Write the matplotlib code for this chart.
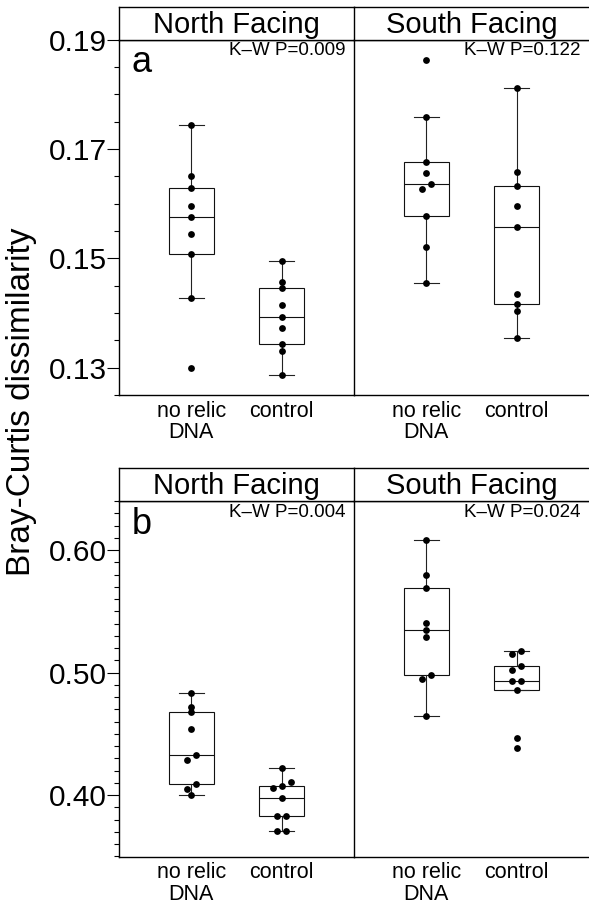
import numpy as np
import matplotlib.pyplot as plt
from matplotlib.ticker import MultipleLocator, FormatStrFormatter

plt.rcParams["font.family"] = ["Liberation Sans", "DejaVu Sans"]

FIG_W, FIG_H, DPI = 589, 907, 100

FACETS = ["North Facing", "South Facing"]
GROUPS = ["no relic\nDNA", "control"]

# panel a
A_NORTH_NORELIC = [0.1743, 0.1650, 0.1628, 0.1596, 0.1575, 0.1544, 0.1508, 0.1428, 0.1300]
A_NORTH_CONTROL = [0.1495, 0.1456, 0.1445, 0.1415, 0.1393, 0.1373, 0.1343, 0.1330, 0.1287]
A_SOUTH_NORELIC = [0.1862, 0.1759, 0.1676, 0.1656, 0.1635, 0.1627, 0.1578, 0.1520, 0.1454]
A_SOUTH_CONTROL = [0.1812, 0.1658, 0.1632, 0.1595, 0.1558, 0.1435, 0.1417, 0.1403, 0.1355]
A_PVALUES = ["K\u2013W P=0.009", "K\u2013W P=0.122"]
A_YTICKS = [0.13, 0.15, 0.17, 0.19]

# panel b
B_NORTH_NORELIC = [0.4832, 0.4718, 0.4675, 0.4539, 0.4328, 0.4290, 0.4095, 0.4054, 0.4002]
B_NORTH_CONTROL = [0.4220, 0.4108, 0.4073, 0.4057, 0.3978, 0.3827, 0.3827, 0.3707, 0.3707]
B_SOUTH_NORELIC = [0.6079, 0.5797, 0.5689, 0.5404, 0.5350, 0.5293, 0.4978, 0.4951, 0.4645]
B_SOUTH_CONTROL = [0.5173, 0.5149, 0.5057, 0.5024, 0.4929, 0.4929, 0.4862, 0.4463, 0.4388]
B_PVALUES = ["K\u2013W P=0.004", "K\u2013W P=0.024"]
B_YTICKS = [0.40, 0.50, 0.60]


def px(x0, y0, w, h):
    """Pixel box (from top-left) to figure fraction rect."""
    return [x0 / FIG_W, 1 - (y0 + h) / FIG_H, w / FIG_W, h / FIG_H]


def swarm_offsets(ax, values, thresh_px=5.2, step_px=9.0):
    """Side-by-side nudge for points that sit almost on top of each other."""
    vals = np.asarray(values, dtype=float)
    ypx = ax.transData.transform(np.column_stack([np.ones_like(vals), vals]))[:, 1]
    x_unit = ax.transData.transform((1, 0))[0] - ax.transData.transform((0, 0))[0]
    offsets = np.zeros_like(vals)
    order = np.argsort(ypx, kind="stable")

    def spread(cluster):
        n = len(cluster)
        for k, idx in enumerate(cluster):
            offsets[idx] = (k - (n - 1) / 2) * step_px / x_unit

    cluster = [order[0]]
    for i in order[1:]:
        if ypx[i] - ypx[cluster[-1]] < thresh_px:
            cluster.append(i)
        else:
            spread(cluster)
            cluster = [i]
    spread(cluster)
    return offsets


def draw_facet(ax, groups, first):
    ax.boxplot(
        groups,
        positions=[1, 2],
        widths=0.5,
        whis=1.5,
        showfliers=False,
        patch_artist=True,
        capwidths=0.28,
        boxprops=dict(facecolor="white", edgecolor="#111111", linewidth=0.8),
        medianprops=dict(color="#111111", linewidth=0.8),
        whiskerprops=dict(color="#222222", linewidth=0.8),
        capprops=dict(color="#222222", linewidth=0.8),
        zorder=1,
    )
    for pos, vals in zip([1, 2], groups):
        off = swarm_offsets(ax, vals)
        ax.scatter(pos + off, vals, s=24, color="black", linewidths=0, zorder=3)

    ax.set_xticks([1, 2])
    ax.set_xticklabels(GROUPS, fontsize=15.5, va="top", linespacing=1.05)
    ax.tick_params(axis="x", length=0, pad=4)
    ax.spines["right"].set_visible(False)
    for s in ["left", "bottom", "top"]:
        ax.spines[s].set_linewidth(1.0)
    if not first:
        ax.tick_params(axis="y", which="both", left=False, labelleft=False)


def draw_strip(fig, rect, label):
    sa = fig.add_axes(rect)
    sa.set_xticks([])
    sa.set_yticks([])
    sa.spines["right"].set_visible(False)
    for s in ["left", "bottom", "top"]:
        sa.spines[s].set_linewidth(1.0)
    sa.text(0.5, 0.45, label, transform=sa.transAxes, ha="center", va="center", fontsize=21)


def draw_row(fig, top_px, data, ylim, yticks, minor, pvals, letter):
    strip_h = 33
    data_h = 355.5
    lefts = [119, 354]
    width = 235
    axes = []
    for i, (x0, facet) in enumerate(zip(lefts, FACETS)):
        ax = fig.add_axes(px(x0, top_px + strip_h, width, data_h))
        ax.set_xlim(0.2, 2.8)
        ax.set_ylim(*ylim)
        ax.set_yticks(yticks)
        ax.yaxis.set_minor_locator(MultipleLocator(minor))
        ax.yaxis.set_major_formatter(FormatStrFormatter("%.2f"))
        ax.tick_params(axis="y", which="major", length=8.6, width=0.8, pad=0, labelsize=21.5)
        ax.tick_params(axis="y", which="minor", length=3.3, width=0.8)
        draw_facet(ax, data[i], first=(i == 0))
        ax.text(0.965, 0.956, pvals[i], transform=ax.transAxes, ha="right",
                va="baseline", fontsize=13.5)
        draw_strip(fig, px(x0, top_px, width, strip_h), facet)
        axes.append(ax)
    axes[0].text(0.055, 0.908, letter, transform=axes[0].transAxes, ha="left",
                 va="baseline", fontsize=26)
    return axes


fig = plt.figure(figsize=(FIG_W / DPI, FIG_H / DPI), dpi=DPI)

draw_row(fig, 6.5,
         [[A_NORTH_NORELIC, A_NORTH_CONTROL], [A_SOUTH_NORELIC, A_SOUTH_CONTROL]],
         (0.125, 0.19), A_YTICKS, 0.005, A_PVALUES, "a")
draw_row(fig, 468,
         [[B_NORTH_NORELIC, B_NORTH_CONTROL], [B_SOUTH_NORELIC, B_SOUTH_CONTROL]],
         (0.35, 0.64), B_YTICKS, 0.01, B_PVALUES, "b")

fig.text(22 / FIG_W, 1 - 402 / FIG_H, "Bray-Curtis dissimilarity", rotation=90,
         ha="center", va="center", fontsize=24)

fig.savefig("out.png", dpi=DPI)
